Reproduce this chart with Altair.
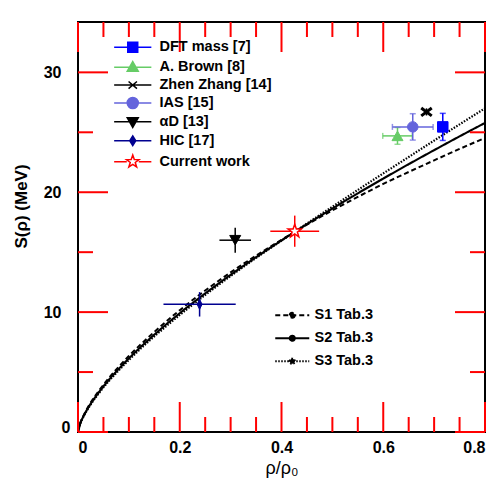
import altair as alt
import pandas as pd

# ---------------- data ----------------
series = ["DFT mass [7]", "A. Brown [8]", "Zhen Zhang [14]", "IAS [15]", "αD [13]", "HIC [17]", "Current work"]
rho = [0.717, 0.628, 0.685, 0.658, 0.309, 0.239, 0.426]
S = [25.45, 24.7, 26.7, 25.45, 16.0, 10.65, 16.75]
rho_err = [0.0, 0.029, 0.0, 0.040, 0.031, 0.071, 0.048]
S_err = [1.13, 0.7, 0.3, 1.1, 1.04, 1.02, 1.3]

models = ["S1 Tab.3", "S2 Tab.3", "S3 Tab.3"]
curve_rho = [0, 0.005, 0.01, 0.02, 0.04, 0.06, 0.08, 0.1, 0.15, 0.2, 0.25, 0.3,
             0.35, 0.4, 0.45, 0.5, 0.55, 0.6, 0.65, 0.7, 0.75, 0.8]
curve_S1 = [0, 0.80, 1.29, 2.10, 3.38, 4.47, 5.44, 6.34, 8.35, 10.16, 11.80, 13.31,
            14.71, 16.03, 17.29, 18.49, 19.61, 20.69, 21.69, 22.66, 23.61, 24.53]
curve_S2 = [0, 0.78, 1.25, 2.02, 3.26, 4.32, 5.26, 6.14, 8.12, 9.91, 11.56, 13.11,
            14.58, 15.98, 17.34, 18.64, 19.91, 21.14, 22.34, 23.51, 24.66, 25.78]
curve_S3 = [0, 0.76, 1.22, 1.97, 3.18, 4.22, 5.14, 6.01, 7.97, 9.76, 11.43, 13.01,
            14.52, 15.96, 17.39, 18.79, 20.19, 21.57, 22.94, 24.31, 25.66, 27.0]

x_range = [0, 0.8]
y_range = [0, 34.2]
x_major = [0, 0.2, 0.4, 0.6, 0.8]
x_minor = [0.05, 0.1, 0.15, 0.25, 0.3, 0.35, 0.45, 0.5, 0.55, 0.65, 0.7, 0.75]
y_major = [0, 10, 20, 30]
y_minor = [5, 15, 25]

# ---------------- styles ----------------
colors = ["#0000ff", "#66cc66", "#000000", "#6464dc", "#000000", "#000090", "#ff0000"]
fills = ["#0000ff", "#66cc66", "transparent", "#6464dc", "#000000", "#000090", "#ffffff"]
STAR = ("M0,-1L0.235,-0.324L0.951,-0.309L0.38,0.124L0.588,0.809L0,0.4"
        "L-0.588,0.809L-0.38,0.124L-0.951,-0.309L-0.235,-0.324Z")
shapes = ["square", "triangle-up", "M-1,-0.75L1,0.75M-1,0.75L1,-0.75", "circle",
          "triangle-down", "M0,-1L0.5,0L0,1L-0.5,0Z", STAR]
sizes = [110, 121, 110, 110, 121, 100, 196]
swidth = [1, 1, 3, 1, 1, 1, 1.5]
caps = [True, True, False, True, False, False, False]

LN = "M-3.1,0H3.1"
leg_paths = [
    LN + "M-0.83,-0.83H0.83V0.83H-0.83Z",
    LN + "M0,-0.92L0.92,0.7H-0.92Z",
    LN + "M-0.7,-0.6L0.7,0.6M-0.7,0.6L0.7,-0.6",
    LN + "M-0.92,0A0.92,0.92,0,1,1,0.92,0A0.92,0.92,0,1,1,-0.92,0Z",
    LN + "M0,0.92L0.92,-0.7H-0.92Z",
    LN + "M0,-0.8L0.5,0L0,0.8L-0.5,0Z",
    "M-3.1,0H-1.0M1.0,0H3.1"
    "M0,-1.1L0.259,-0.356L1.046,-0.34L0.418,0.136L0.647,0.89L0,0.44"
    "L-0.647,0.89L-0.418,0.136L-1.046,-0.34L-0.259,-0.356Z",
]
DOTLINE = "M-3.4,0H3.4M-0.5,0A0.5,0.5,0,1,1,0.5,0A0.5,0.5,0,1,1,-0.5,0Z"

W, H = 407, 410
MAJ, MIN = 30, 15
TICKCOL = "red"

df = pd.DataFrame({"idx": list(range(len(series))), "series": series, "rho": rho, "S": S,
                   "rho_err": rho_err, "S_err": S_err})
df["rho_lo"] = df["rho"] - df["rho_err"]
df["rho_hi"] = df["rho"] + df["rho_err"]
df["S_lo"] = df["S"] - df["S_err"]
df["S_hi"] = df["S"] + df["S_err"]

curve_df = pd.concat([
    pd.DataFrame({"model": m, "rho": curve_rho, "S": v})
    for m, v in zip(models, [curve_S1, curve_S2, curve_S3])
])

xs = alt.Scale(domain=x_range, nice=False, zero=False)
ys = alt.Scale(domain=y_range, nice=False, zero=False)

FONT = "Liberation Sans"

ax_x = alt.Axis(orient="bottom", values=x_major, ticks=False, domain=False, grid=False,
                labelPadding=7, format=".1~f",
                title="ρ/ρ₀", titleFont=FONT, titleFontWeight="normal", titleFontSize=18,
                titleY=27, titleBaseline="top")
ax_y = alt.Axis(orient="left", values=y_major[1:], ticks=False, domain=False, grid=False,
                labelPadding=17,
                title="S(ρ) (MeV)", titleFont=FONT, titleFontWeight="bold", titleFontSize=17,
                titleX=-48, titleY=184)
ax_y0 = alt.Axis(orient="left", values=y_major[:1], ticks=False, domain=False, grid=False,
                 labelPadding=8, labelOffset=-5, title=None)

# ---------------- frame ticks (inward, on all four sides) ----------------
ky = (y_range[1] - y_range[0]) / H
kx = (x_range[1] - x_range[0]) / W
xt_rows = []
for vals, L in [(x_major, MAJ), (x_minor, MIN)]:
    for v in vals:
        xt_rows.append({"v": v, "a": y_range[0], "b": y_range[0] + L * ky})
        xt_rows.append({"v": v, "a": y_range[1], "b": y_range[1] - L * ky})
yt_rows = []
for vals, L in [(y_major, MAJ), (y_minor, MIN)]:
    for v in vals:
        yt_rows.append({"v": v, "a": x_range[0], "b": x_range[0] + L * kx})
        yt_rows.append({"v": v, "a": x_range[1], "b": x_range[1] - L * kx})
xt_df = pd.DataFrame(xt_rows)
yt_df = pd.DataFrame(yt_rows)

tick_layers = [
    alt.Chart(xt_df).mark_rule(color=TICKCOL, strokeWidth=2).encode(
        x=alt.X("v:Q", scale=xs, axis=None),
        y=alt.Y("a:Q", scale=ys, axis=None), y2="b:Q"),
    alt.Chart(yt_df).mark_rule(color=TICKCOL, strokeWidth=2).encode(
        y=alt.Y("v:Q", scale=ys, axis=None),
        x=alt.X("a:Q", scale=xs, axis=None), x2="b:Q"),
]

# ---------------- curves + legend 2 ----------------
leg2 = alt.Legend(title=None, orient="none", legendX=207, legendY=286, symbolType=DOTLINE,
                  symbolSize=100, symbolStrokeWidth=1.5, symbolFillColor="black",
                  symbolStrokeColor="black", labelFont=FONT, labelFontWeight="bold",
                  labelFontSize=14.5, labelColor="black", labelOffset=15, rowPadding=8,
                  labelLimit=300)
curves = alt.Chart(curve_df).mark_line(color="black", interpolate="monotone").encode(
    x=alt.X("rho:Q", scale=xs, axis=ax_x),
    y=alt.Y("S:Q", scale=ys, axis=ax_y),
    strokeDash=alt.StrokeDash("model:N", scale=alt.Scale(domain=models, range=[[5, 3], [1, 0], [1.5, 1.5]]),
                              legend=leg2),
    strokeWidth=alt.StrokeWidth("model:N", scale=alt.Scale(domain=models, range=[2, 2.2, 1.2]),
                                legend=None),
)

layers = [curves]

for i, name in enumerate(series):
    base = alt.Chart(df).transform_filter(alt.datum.idx == i)
    c = colors[i]
    if rho_err[i] > 0:
        layers.append(base.mark_rule(color=c, strokeWidth=1.5).encode(
            x=alt.X("rho_lo:Q", scale=xs, axis=None), x2="rho_hi:Q",
            y=alt.Y("S:Q", scale=ys, axis=None)))
        if caps[i]:
            for fld in ["rho_lo", "rho_hi"]:
                layers.append(base.mark_tick(orient="vertical", color=c, size=6, thickness=1.5).encode(
                    x=alt.X(fld + ":Q", scale=xs, axis=None), y=alt.Y("S:Q", scale=ys, axis=None)))
    layers.append(base.mark_rule(color=c, strokeWidth=1.5).encode(
        x=alt.X("rho:Q", scale=xs, axis=None),
        y=alt.Y("S_lo:Q", scale=ys, axis=None), y2="S_hi:Q"))
    if caps[i]:
        for fld in ["S_lo", "S_hi"]:
            layers.append(base.mark_tick(orient="horizontal", color=c, size=6, thickness=1.5).encode(
                x=alt.X("rho:Q", scale=xs, axis=None), y=alt.Y(fld + ":Q", scale=ys, axis=None)))

for i, name in enumerate(series):
    base = alt.Chart(df).transform_filter(alt.datum.idx == i)
    layers.append(base.mark_point(shape=shapes[i], size=sizes[i], filled=True, fill=fills[i],
                                  stroke=colors[i], strokeWidth=swidth[i], opacity=1).encode(
        x=alt.X("rho:Q", scale=xs, axis=None),
        y=alt.Y("S:Q", scale=ys, axis=ax_y0 if i == 0 else None)))

# ---------------- legend 1 (invisible layer carrying the legend) ----------------
leg1 = alt.Legend(title=None, orient="none", legendX=47.5, legendY=18, symbolSize=144,
                  symbolStrokeWidth=1.5, symbolOpacity=1, labelFont=FONT, labelFontWeight="bold",
                  labelFontSize=14.5, labelColor="black", labelOffset=19.5, rowPadding=1.9,
                  labelLimit=300)
legend_layer = alt.Chart(df).mark_point(filled=True, opacity=0).encode(
    x=alt.X("rho:Q", scale=xs, axis=None),
    y=alt.Y("S:Q", scale=ys, axis=None),
    fill=alt.Fill("series:N", scale=alt.Scale(domain=series, range=fills), legend=leg1),
    stroke=alt.Stroke("series:N", scale=alt.Scale(domain=series, range=colors), legend=leg1),
    shape=alt.Shape("series:N", scale=alt.Scale(domain=series, range=leg_paths), legend=leg1),
)
layers.append(legend_layer)
layers += tick_layers

chart = alt.layer(*layers).resolve_axis(x="independent", y="independent").properties(
    width=W, height=H,
    padding={"left": 70, "top": 14, "right": 4, "bottom": 46},
    autosize=alt.AutoSizeParams(type="none"),
    background="white",
).configure_view(stroke="black", strokeWidth=2).configure_axis(
    labelFont=FONT, labelFontWeight="bold", labelFontSize=16, labelColor="black",
    titleColor="black",
)

chart.save("out.html", embed_options={"renderer": "svg", "actions": False})
